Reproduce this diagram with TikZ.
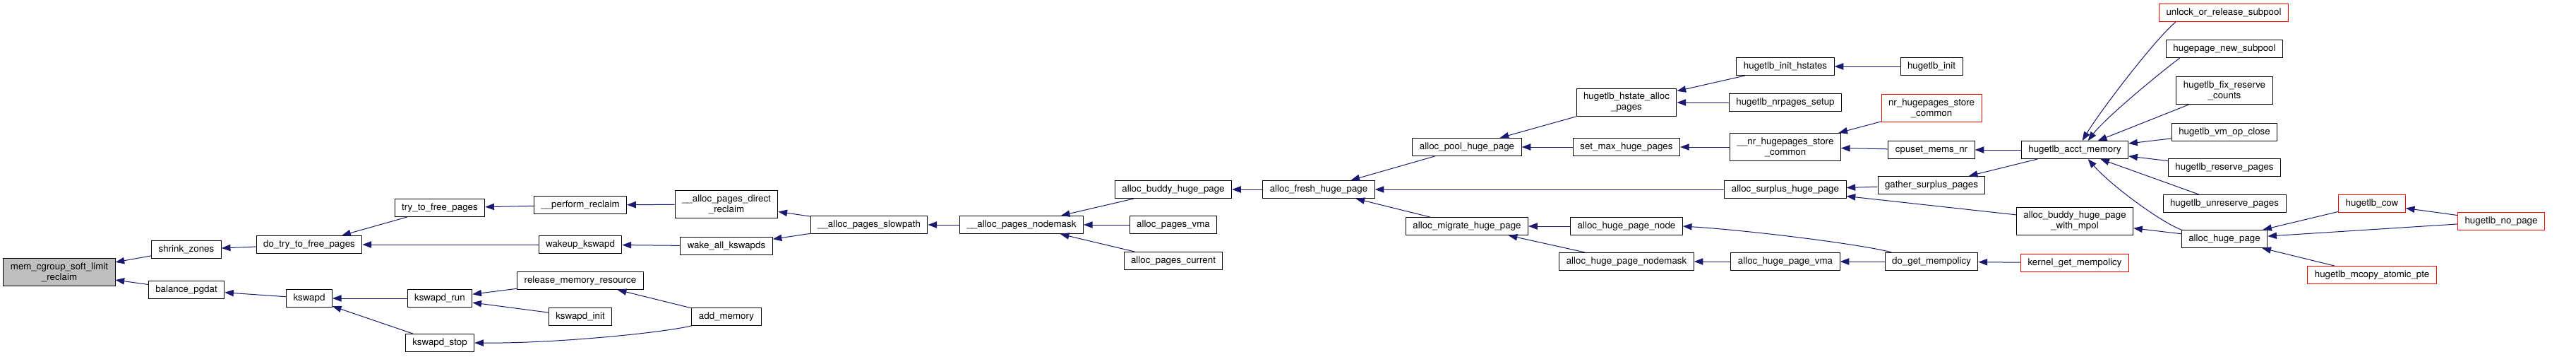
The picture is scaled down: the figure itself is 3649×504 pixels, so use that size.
\documentclass[tikz,border=0pt]{standalone}
\usepackage{fontspec}
\setmainfont{TeX Gyre Heros}
\usetikzlibrary{arrows.meta}
\definecolor{edgeblue}{HTML}{191970}
\definecolor{rootgray}{HTML}{BFBFBF}

\begin{document}
\begin{tikzpicture}[x=0.75pt, y=-0.75pt]
    % Define styles
    \tikzstyle{fn} = [rectangle, draw=black, fill=white, line width=0.75pt, font=\fontsize{10}{11.25}\selectfont, align=center, inner xsep=7.5pt, inner ysep=4.5pt, minimum height=18.75pt]
    \tikzstyle{root} = [fn, fill=rootgray]
    \tikzstyle{ext} = [fn, draw=red]
    \tikzstyle{call} = [draw=edgeblue, line width=0.75pt, -{Triangle[length=9.5pt,width=7pt]}]

    \useasboundingbox (0,0) rectangle (3649,504);

    % Nodes
    \node [root] (softlimit) at (84,385) {mem\_cgroup\_soft\_limit\\\_reclaim};
    \node [fn] (shrinkzones) at (264,353) {shrink\_zones};
    \node [fn] (balancepgdat) at (264,410) {balance\_pgdat};
    \node [fn] (dotrytofree) at (438,346) {do\_try\_to\_free\_pages};
    \node [fn] (kswapd) at (438,422) {kswapd};
    \node [fn] (trytofree) at (623,294) {try\_to\_free\_pages};
    \node [fn] (kswapdrun) at (623,422) {kswapd\_run};
    \node [fn] (kswapdstop) at (623,485) {kswapd\_stop};
    \node [fn] (performreclaim) at (822,290) {\_\_perform\_reclaim};
    \node [fn] (wakeupkswapd) at (822,346) {wakeup\_kswapd};
    \node [fn] (releasemem) at (822,397) {release\_memory\_resource};
    \node [fn] (kswapdinit) at (822,448) {kswapd\_init};
    \node [fn] (directreclaim) at (1029,289) {\_\_alloc\_pages\_direct\\\_reclaim};
    \node [fn] (wakeallkswapds) at (1029,348) {wake\_all\_kswapds};
    \node [fn] (addmemory) at (1029,448) {add\_memory};
    \node [fn] (slowpath) at (1231,318) {\_\_alloc\_pages\_slowpath};
    \node [fn] (pagesnodemask) at (1447,318) {\_\_alloc\_pages\_nodemask};
    \node [fn] (buddyhuge) at (1662,268) {alloc\_buddy\_huge\_page};
    \node [fn] (pagesvma) at (1662,318) {alloc\_pages\_vma};
    \node [fn] (pagescurrent) at (1662,369) {alloc\_pages\_current};
    \node [fn] (freshhuge) at (1868,268) {alloc\_fresh\_huge\_page};
    \node [fn] (poolhuge) at (2078,208) {alloc\_pool\_huge\_page};
    \node [fn] (migratehuge) at (2078,320) {alloc\_migrate\_huge\_page};
    \node [fn] (hstatealloc) at (2304,145) {hugetlb\_hstate\_alloc\\\_pages};
    \node [fn] (setmaxhuge) at (2304,208) {set\_max\_huge\_pages};
    \node [fn] (hugepagenode) at (2304,320) {alloc\_huge\_page\_node};
    \node [fn] (hugepagenodemask) at (2304,370) {alloc\_huge\_page\_nodemask};
    \node [fn] (inithstates) at (2529,94) {hugetlb\_init\_hstates};
    \node [fn] (nrpagessetup) at (2529,145) {hugetlb\_nrpages\_setup};
    \node [fn] (nrstorecommon) at (2529,208) {\_\_nr\_hugepages\_store\\\_common};
    \node [fn] (surplushuge) at (2529,268) {alloc\_surplus\_huge\_page};
    \node [fn] (hugepagevma) at (2529,370) {alloc\_huge\_page\_vma};
    \node [fn] (hugetlbinit) at (2736,94) {hugetlb\_init};
    \node [ext] (nrhugestore) at (2736,153) {nr\_hugepages\_store\\\_common};
    \node [fn] (cpusetmems) at (2736,212) {cpuset\_mems\_nr};
    \node [fn] (gathersurplus) at (2736,262) {gather\_surplus\_pages};
    \node [fn] (dogetmempolicy) at (2736,370) {do\_get\_mempolicy};
    \node [fn] (acctmemory) at (2939,212) {hugetlb\_acct\_memory};
    \node [fn] (buddympol) at (2939,313) {alloc\_buddy\_huge\_page\\\_with\_mpol};
    \node [ext] (kernelgetmem) at (2939,372) {kernel\_get\_mempolicy};
    \node [ext] (unlocksubpool) at (3150,18) {unlock\_or\_release\_subpool};
    \node [fn] (newsubpool) at (3151,69) {hugepage\_new\_subpool};
    \node [fn] (fixreserve) at (3151,128) {hugetlb\_fix\_reserve\\\_counts};
    \node [fn] (vmopclose) at (3151,187) {hugetlb\_vm\_op\_close};
    \node [fn] (reservepages) at (3151,237) {hugetlb\_reserve\_pages};
    \node [fn] (unreservepages) at (3151,288) {hugetlb\_unreserve\_pages};
    \node [fn] (allochugepage) at (3151,338) {alloc\_huge\_page};
    \node [ext] (hugetlbcow) at (3360,288) {hugetlb\_cow};
    \node [ext] (mcopyatomic) at (3360,389) {hugetlb\_mcopy\_atomic\_pte};
    \node [ext] (hugetlbnopage) at (3543,313) {hugetlb\_no\_page};

    % Arrows
    \draw [call] (shrinkzones) -- (softlimit);
    \draw [call] (balancepgdat) -- (softlimit);
    \draw [call] (dotrytofree) -- (shrinkzones);
    \draw [call] (kswapd) -- (balancepgdat);
    \draw [call] (trytofree) -- (dotrytofree);
    \draw [call] (wakeupkswapd) -- (dotrytofree);
    \draw [call] (kswapdrun) -- (kswapd);
    \draw [call] (kswapdstop) -- (kswapd);
    \draw [call] (performreclaim) -- (trytofree);
    \draw [call] (wakeallkswapds) -- (wakeupkswapd);
    \draw [call] (releasemem) -- (kswapdrun);
    \draw [call] (kswapdinit) -- (kswapdrun);
    \draw [call] (addmemory.south west) .. controls (930,472) and (780,486) .. (kswapdstop.east);
    \draw [call] (addmemory) -- (releasemem);
    \draw [call] (directreclaim) -- (performreclaim);
    \draw [call] (slowpath) -- (directreclaim);
    \draw [call] (slowpath) -- (wakeallkswapds);
    \draw [call] (pagesnodemask) -- (slowpath);
    \draw [call] (buddyhuge) -- (pagesnodemask);
    \draw [call] (pagesvma) -- (pagesnodemask);
    \draw [call] (pagescurrent) -- (pagesnodemask);
    \draw [call] (freshhuge) -- (buddyhuge);
    \draw [call] (poolhuge) -- (freshhuge);
    \draw [call] (surplushuge) -- (freshhuge);
    \draw [call] (migratehuge) -- (freshhuge);
    \draw [call] (hstatealloc) -- (poolhuge);
    \draw [call] (setmaxhuge) -- (poolhuge);
    \draw [call] (hugepagenode) -- (migratehuge);
    \draw [call] (hugepagenodemask) -- (migratehuge);
    \draw [call] (inithstates) -- (hstatealloc);
    \draw [call] (nrpagessetup) -- (hstatealloc);
    \draw [call] (nrstorecommon) -- (setmaxhuge);
    \draw [call] (hugetlbinit) -- (inithstates);
    \draw [call] (nrhugestore) -- (nrstorecommon);
    \draw [call] (cpusetmems) -- (nrstorecommon);
    \draw [call] (gathersurplus) -- (surplushuge);
    \draw [call] (buddympol) -- (surplushuge);
    \draw [call] ([xshift=7.5pt]dogetmempolicy.north west) .. controls (2640,346) and (2480,326) .. (hugepagenode.east);
    \draw [call] (hugepagevma) -- (hugepagenodemask);
    \draw [call] (dogetmempolicy) -- (hugepagevma);
    \draw [call] (acctmemory) -- (cpusetmems);
    \draw [call] (acctmemory) -- (gathersurplus);
    \draw [call] (kernelgetmem) -- (dogetmempolicy);
    \draw [call] ([xshift=18pt]unlocksubpool.south west) .. controls (3053,55) and (2975,157) .. ([xshift=8pt]acctmemory.north);
    \draw [call] ([xshift=15pt]newsubpool.south west) .. controls (3062,101) and (2983,166) .. ([xshift=14pt]acctmemory.north);
    \draw [call] (fixreserve) -- (acctmemory);
    \draw [call] (vmopclose) -- (acctmemory);
    \draw [call] (reservepages) -- (acctmemory);
    \draw [call] (unreservepages) -- (acctmemory);
    \draw [call] (allochugepage.north west) .. controls (3057,312) and (2988,260) .. ([xshift=14pt]acctmemory.south);
    \draw [call] (allochugepage) -- (buddympol);
    \draw [call] (hugetlbcow) -- (allochugepage);
    \draw [call] (hugetlbnopage) -- (allochugepage);
    \draw [call] (mcopyatomic) -- (allochugepage);
    \draw [call] (hugetlbnopage) -- (hugetlbcow);
\end{tikzpicture}
\end{document}
